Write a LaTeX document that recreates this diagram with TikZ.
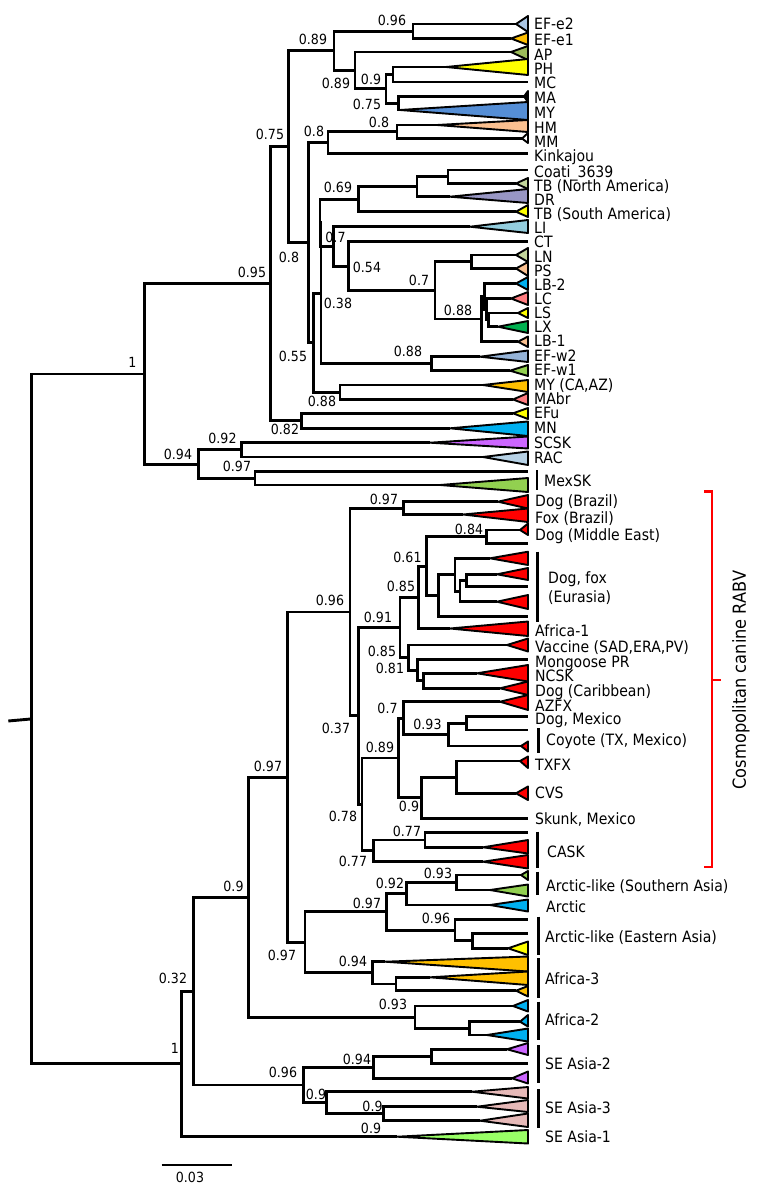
\documentclass[tikz,border=0pt]{standalone}
\usepackage{fontspec}
\setmainfont{DejaVu Sans}[FakeStretch=0.9]
\usepackage{tikz}

\definecolor{steelA}{HTML}{A9C4E2}
\definecolor{steelB}{HTML}{95B3D7}
\definecolor{steelC}{HTML}{B7D2E6}
\definecolor{amber}{HTML}{FFC000}
\definecolor{olive}{HTML}{9BBB59}
\definecolor{lemon}{HTML}{FFFF00}
\definecolor{cornflower}{HTML}{558ED5}
\definecolor{peach}{HTML}{FAC090}
\definecolor{sage}{HTML}{C3D69B}
\definecolor{lavender}{HTML}{9896C4}
\definecolor{skyblue}{HTML}{93CDDD}
\definecolor{cyanblue}{HTML}{00B0F0}
\definecolor{salmon}{HTML}{FF7C80}
\definecolor{emerald}{HTML}{00B050}
\definecolor{leaf}{HTML}{92D050}
\definecolor{violet}{HTML}{CC66FF}
\definecolor{rabv}{HTML}{FF0000}
\definecolor{rose}{HTML}{E6B9B8}
\definecolor{lime}{HTML}{99FF66}

\begin{document}
\begin{tikzpicture}[x=1pt,y=-1pt,
    branch/.style={every edge/.style={draw,line width=2.9pt,line join=miter,to path={|- (\tikztotarget)}}},
    clade/.style={draw,line width=1.9pt,line join=round},
    support/.style={font=\fontsize{14}{14}\selectfont,inner sep=0pt,text height=10.2pt,text depth=0pt},
    taxon/.style={font=\fontsize{15.6}{15.6}\selectfont,anchor=west,inner sep=0pt,text height=11.4pt,text depth=0pt},
    group/.style={line width=2.5pt},
    bracket/.style={rabv,line width=2.2pt}]

    \useasboundingbox (0,0) rectangle (766,1190);

    % collapsed clades, upper part
    \draw[clade,fill=steelA] (516,24) coordinate (efe2) -- (528,16) -- (528,32) -- cycle;
    \draw[clade,fill=amber] (511,38.5) coordinate (efe1) -- (528,32.5) -- (528,45) -- cycle;
    \draw[clade,fill=olive] (511,52) coordinate (ap) -- (528,46) -- (528,60) -- cycle;
    \draw[clade,fill=lemon] (446,67) coordinate (ph) -- (528,59) -- (528,75) -- cycle;
    \draw[clade,fill=black] (524,96.5) coordinate (ma) -- (528,91) -- (528,102) -- cycle;
    \draw[clade,fill=cornflower] (400,110) coordinate (my) -- (528,102) -- (528,120) -- cycle;
    \draw[clade,fill=peach] (437,125) coordinate (hm) -- (528,120) -- (528,132) -- cycle;
    \draw[clade,fill=white] (522,138.5) coordinate (mm) -- (528,133) -- (528,143) -- cycle;
    \draw[clade,fill=sage] (516,183.5) coordinate (tbna) -- (528,178) -- (528,189) -- cycle;
    \draw[clade,fill=lavender] (450,196.7) coordinate (dr) -- (528,189) -- (528,203) -- cycle;
    \draw[clade,fill=lemon] (516,211.7) coordinate (tbsa) -- (528,205) -- (528,217) -- cycle;
    \draw[clade,fill=skyblue] (470,226.7) coordinate (li) -- (528,220) -- (528,233) -- cycle;
    \draw[clade,fill=sage] (516,255) coordinate (ln) -- (528,248) -- (528,262) -- cycle;
    \draw[clade,fill=peach] (516,268.5) coordinate (ps) -- (528,262) -- (528,276) -- cycle;
    \draw[clade,fill=cyanblue] (516,283.5) coordinate (lb2) -- (528,277) -- (528,290) -- cycle;
    \draw[clade,fill=salmon] (511,298.5) coordinate (lc) -- (528,292) -- (528,305) -- cycle;
    \draw[clade,fill=lemon] (518,313) coordinate (ls) -- (528,308) -- (528,318) -- cycle;
    \draw[clade,fill=emerald] (498,326.7) coordinate (lx) -- (528,321) -- (528,333) -- cycle;
    \draw[clade,fill=peach] (518,341.7) coordinate (lb1) -- (528,336.5) -- (528,347) -- cycle;
    \draw[clade,fill=steelB] (480,356.7) coordinate (efw2) -- (528,350.5) -- (528,362) -- cycle;
    \draw[clade,fill=leaf] (510,370.7) coordinate (efw1) -- (528,365) -- (528,376) -- cycle;
    \draw[clade,fill=amber] (483,385) coordinate (myca) -- (528,380) -- (528,392) -- cycle;
    \draw[clade,fill=salmon] (513,399.5) coordinate (mabr) -- (528,393) -- (528,405) -- cycle;
    \draw[clade,fill=lemon] (513,413.3) coordinate (efu) -- (528,408) -- (528,419) -- cycle;
    \draw[clade,fill=cyanblue] (450,428.3) coordinate (mn) -- (528,421.5) -- (528,436) -- cycle;
    \draw[clade,fill=violet] (430,442.7) coordinate (scsk) -- (528,436.5) -- (528,448.5) -- cycle;
    \draw[clade,fill=steelC] (483,457) coordinate (rac) -- (528,451.5) -- (528,465) -- cycle;
    \draw[clade,fill=leaf] (440,485) coordinate (mexsk) -- (528,478) -- (528,492) -- cycle;

    % collapsed clades, lower part
    \draw[clade,fill=rabv] (498,501.7) coordinate (dogbr) -- (528,495) -- (528,508.5) -- cycle;
    \draw[clade,fill=rabv] (463,514.5) coordinate (foxbr) -- (528,508.5) -- (528,522) -- cycle;
    \draw[clade,fill=rabv] (520,530) coordinate (dogme) -- (528,523.5) -- (528,535) -- cycle;
    \draw[clade,fill=rabv] (490,558.3) coordinate (eu1) -- (528,551.7) -- (528,565) -- cycle;
    \draw[clade,fill=rabv] (497,574.3) coordinate (eu2) -- (528,568) -- (528,580) -- cycle;
    \draw[clade,fill=rabv] (497,601.7) coordinate (eu4) -- (528,595) -- (528,609) -- cycle;
    \draw[clade,fill=rabv] (450,628.5) coordinate (afr1) -- (528,621.5) -- (528,636) -- cycle;
    \draw[clade,fill=rabv] (507,645) coordinate (vac) -- (528,638.5) -- (528,651.5) -- cycle;
    \draw[clade,fill=rabv] (477,673.3) coordinate (ncsk) -- (528,665) -- (528,681.5) -- cycle;
    \draw[clade,fill=rabv] (500,688.3) coordinate (dogcar) -- (528,681.5) -- (528,695) -- cycle;
    \draw[clade,fill=rabv] (500,701.7) coordinate (azfx) -- (528,695) -- (528,710) -- cycle;
    \draw[clade,fill=rabv] (521,746) coordinate (coy2) -- (528,741.5) -- (528,751.5) -- cycle;
    \draw[clade,fill=rabv] (520,761) coordinate (txfx) -- (528,756.5) -- (528,768) -- cycle;
    \draw[clade,fill=rabv] (516,793.3) coordinate (cvs) -- (528,786.5) -- (528,800) -- cycle;
    \draw[clade,fill=rabv] (483,847.3) coordinate (cask2) -- (528,840) -- (528,853.5) -- cycle;
    \draw[clade,fill=rabv] (483,861.7) coordinate (cask3) -- (528,855) -- (528,868.5) -- cycle;
    \draw[clade,fill=leaf] (521,875) coordinate (ars1) -- (528,871) -- (528,880) -- cycle;
    \draw[clade,fill=leaf] (490,890) coordinate (ars2) -- (528,884.5) -- (528,896.5) -- cycle;
    \draw[clade,fill=cyanblue] (490,905) coordinate (arctic) -- (528,899.5) -- (528,911.5) -- cycle;
    \draw[clade,fill=lemon] (508,948.3) coordinate (are3) -- (528,941.5) -- (528,955) -- cycle;
    \draw[clade,fill=amber] (385,961.7) coordinate (af3a) -- (528,956.5) -- (528,971.5) -- cycle;
    \draw[clade,fill=amber] (430,977.3) coordinate (af3b) -- (528,971.5) -- (528,985) -- cycle;
    \draw[clade,fill=amber] (516,990.7) coordinate (af3c) -- (528,986) -- (528,996.5) -- cycle;
    \draw[clade,fill=cyanblue] (513,1006) coordinate (af2a) -- (528,1000) -- (528,1011.5) -- cycle;
    \draw[clade,fill=cyanblue] (520,1021.7) coordinate (af2b) -- (528,1015) -- (528,1026.5) -- cycle;
    \draw[clade,fill=cyanblue] (487,1035) coordinate (af2c) -- (528,1028.5) -- (528,1041.5) -- cycle;
    \draw[clade,fill=violet] (507,1049.3) coordinate (sea2a) -- (528,1043) -- (528,1055) -- cycle;
    \draw[clade,fill=violet] (512,1078.3) coordinate (sea2c) -- (528,1071.5) -- (528,1083.5) -- cycle;
    \draw[clade,fill=rose] (472,1091.7) coordinate (sea3a) -- (528,1087) -- (528,1098.5) -- cycle;
    \draw[clade,fill=rose] (477,1106.7) coordinate (sea3b) -- (528,1100) -- (528,1112) -- cycle;
    \draw[clade,fill=rose] (480,1120.7) coordinate (sea3c) -- (528,1113.5) -- (528,1127) -- cycle;
    \draw[clade,fill=lime] (397,1136.7) coordinate (sea1) -- (528,1130) -- (528,1143.5) -- cycle;

    % single sequences
    \coordinate (mc) at (528,82);
    \coordinate (kink) at (528,153.5);
    \coordinate (coati) at (528,170);
    \coordinate (ct) at (528,241.7);
    \coordinate (mexa) at (528,471.7);
    \coordinate (me2) at (528,543.3);
    \coordinate (eu3) at (528,586.7);
    \coordinate (eu5) at (528,616.7);
    \coordinate (mong) at (528,659.3);
    \coordinate (dogmx) at (528,716.7);
    \coordinate (coy1) at (528,730);
    \coordinate (skunk) at (528,818.3);
    \coordinate (cask1) at (528,832.7);
    \coordinate (are1) at (528,919.3);
    \coordinate (are2) at (528,933.3);
    \coordinate (sea2b) at (528,1063.3);

    % internal nodes
    \coordinate (root) at (31.7,718.9);
    \coordinate (rootstub) at (8.3,721);
    \coordinate (n1top) at (144.3,373.95);
    \coordinate (n095) at (270.5,283.8);
    \coordinate (n075) at (288.3,146.8);
    \coordinate (n089a) at (334,50.85);
    \coordinate (nEFe) at (413,31.25);
    \coordinate (n089b) at (355,70.45);
    \coordinate (nPHMY) at (386,88.9);
    \coordinate (n09) at (393,74.5);
    \coordinate (n075b) at (398.5,103.25);
    \coordinate (n08) at (308.3,242.7);
    \coordinate (n08K) at (328,142.6);
    \coordinate (n08HM) at (397,131.75);
    \coordinate (n055) at (313.3,342.75);
    \coordinate (n038) at (321,293.25);
    \coordinate (nX) at (320,222.8);
    \coordinate (n069) at (358.5,199.2);
    \coordinate (nDR) at (417,186.7);
    \coordinate (nCoati) at (448,176.75);
    \coordinate (n07) at (333.3,246.4);
    \coordinate (n054) at (348.3,266.05);
    \coordinate (n07L) at (435,290.4);
    \coordinate (nLNPS) at (471.7,261.75);
    \coordinate (n088L) at (481.7,319);
    \coordinate (nL3) at (484.5,296.35);
    \coordinate (nL4) at (486.5,309.2);
    \coordinate (nL5) at (488.5,319.85);
    \coordinate (n088W) at (431.7,363.7);
    \coordinate (n088M) at (340,392.25);
    \coordinate (n082) at (301.7,420.8);
    \coordinate (n094) at (198.3,464.1);
    \coordinate (n092) at (241.7,449.85);
    \coordinate (n097M) at (255,478.35);
    \coordinate (n1bot) at (181.7,1063.9);
    \coordinate (n032) at (193.3,991.1);
    \coordinate (n09F) at (248.3,897.2);
    \coordinate (n097C) at (287.3,777.2);
    \coordinate (n096C) at (350,612);
    \coordinate (n097B) at (403.3,508.1);
    \coordinate (n037) at (358.3,715.9);
    \coordinate (n091) at (400,627.4);
    \coordinate (n085a) at (418.3,597.35);
    \coordinate (n061) at (426.7,566.2);
    \coordinate (n084) at (486.7,536.65);
    \coordinate (nEu) at (438.3,595.7);
    \coordinate (nE1) at (455,574.7);
    \coordinate (nE2) at (460,591.1);
    \coordinate (nE3) at (466.7,580.5);
    \coordinate (n085b) at (408.3,657.5);
    \coordinate (n081) at (417.3,670.05);
    \coordinate (nNC) at (423.3,680.8);
    \coordinate (n078) at (362,804.4);
    \coordinate (n089) at (398.3,757.95);
    \coordinate (n07A) at (403.3,718.2);
    \coordinate (n093) at (448.3,734.7);
    \coordinate (nDM) at (466.7,723.35);
    \coordinate (n09S) at (421.7,797.7);
    \coordinate (nTC) at (456.7,777.15);
    \coordinate (n077b) at (373.3,850.85);
    \coordinate (n077a) at (425,840);
    \coordinate (n097B2) at (305,942.4);
    \coordinate (n097A) at (386.7,911.9);
    \coordinate (n092A) at (406.7,893.75);
    \coordinate (n093A) at (456.7,882.5);
    \coordinate (n096E) at (455,930.05);
    \coordinate (nE72) at (472.7,940.8);
    \coordinate (n094A) at (372.7,972.85);
    \coordinate (nAf3b) at (396,984);
    \coordinate (n093F) at (415,1017.2);
    \coordinate (nAf2b) at (469.3,1028.35);
    \coordinate (n096S) at (303.3,1085);
    \coordinate (n094S) at (373.3,1067.3);
    \coordinate (nS2a) at (431.7,1056.3);
    \coordinate (n09S3) at (326.7,1102.7);
    \coordinate (n09S3b) at (383.3,1113.7);

    % branches
    \draw[line width=2.9pt] (rootstub) -- (root);
    \path[branch]
    (root) edge (n1top) edge (n1bot)
    (n1top) edge (n095) edge (n094)
    (n095) edge (n075) edge (n082)
    (n075) edge (n089a) edge (n08)
    (n089a) edge (nEFe) edge (n089b)
    (nEFe) edge (efe2) edge (efe1)
    (n089b) edge (ap) edge (nPHMY)
    (nPHMY) edge (n09) edge (n075b)
    (n09) edge (ph) edge (mc)
    (n075b) edge (ma) edge (my)
    (n08) edge (n08K) edge (n055)
    (n08K) edge (n08HM) edge (kink)
    (n08HM) edge (hm) edge (mm)
    (n055) edge (n038) edge (n088M)
    (n038) edge (nX) edge (n088W)
    (nX) edge (n069) edge (n07)
    (n069) edge (nDR) edge (tbsa)
    (nDR) edge (nCoati) edge (dr)
    (nCoati) edge (coati) edge (tbna)
    (n07) edge (li) edge (n054)
    (n054) edge (ct) edge (n07L)
    (n07L) edge (nLNPS) edge (n088L)
    (nLNPS) edge (ln) edge (ps)
    (n088L) edge (nL3) edge (lb1)
    (nL3) edge (lb2) edge (nL4)
    (nL4) edge (lc) edge (nL5)
    (nL5) edge (ls) edge (lx)
    (n088W) edge (efw2) edge (efw1)
    (n088M) edge (myca) edge (mabr)
    (n082) edge (efu) edge (mn)
    (n094) edge (n092) edge (n097M)
    (n092) edge (scsk) edge (rac)
    (n097M) edge (mexa) edge (mexsk);
    \path[branch]
    (n1bot) edge (n032) edge (sea1)
    (n032) edge (n09F) edge (n096S)
    (n09F) edge (n097C) edge (n093F)
    (n097C) edge (n096C) edge (n097B2)
    (n096C) edge (n097B) edge (n037)
    (n097B) edge (dogbr) edge (foxbr)
    (n037) edge (n091) edge (n078)
    (n091) edge (n085a) edge (n085b)
    (n085a) edge (n061) edge (afr1)
    (n061) edge (n084) edge (nEu)
    (n084) edge (dogme) edge (me2)
    (nEu) edge (nE1) edge (eu5)
    (nE1) edge (eu1) edge (nE2)
    (nE2) edge (nE3) edge (eu4)
    (nE3) edge (eu2) edge (eu3)
    (n085b) edge (vac) edge (n081)
    (n081) edge (mong) edge (nNC)
    (nNC) edge (ncsk) edge (dogcar)
    (n078) edge (n089) edge (n077b)
    (n089) edge (n07A) edge (n09S)
    (n07A) edge (azfx) edge (n093)
    (n093) edge (nDM) edge (coy2)
    (nDM) edge (dogmx) edge (coy1)
    (n09S) edge (nTC) edge (skunk)
    (nTC) edge (txfx) edge (cvs)
    (n077b) edge (n077a) edge (cask3)
    (n077a) edge (cask1) edge (cask2)
    (n097B2) edge (n097A) edge (n094A)
    (n097A) edge (n092A) edge (n096E)
    (n092A) edge (n093A) edge (arctic)
    (n093A) edge (ars1) edge (ars2)
    (n096E) edge (are1) edge (nE72)
    (nE72) edge (are2) edge (are3)
    (n094A) edge (af3a) edge (nAf3b)
    (nAf3b) edge (af3b) edge (af3c)
    (n093F) edge (af2a) edge (nAf2b)
    (nAf2b) edge (af2b) edge (af2c)
    (n096S) edge (n094S) edge (n09S3)
    (n094S) edge (nS2a) edge (sea2c)
    (nS2a) edge (sea2a) edge (sea2b)
    (n09S3) edge (sea3a) edge (n09S3b)
    (n09S3b) edge (sea3b) edge (sea3c);

    % support values
    \node[support] (s1) at (392,20) {0.96};
    \node[support] (s2) at (313,39) {0.89};
    \node[support] (s3) at (336,83.5) {0.89};
    \node[support] (s4) at (371,79) {0.9};
    \node[support] (s5) at (367,104) {0.75};
    \node[support] (s6) at (379,122.5) {0.8};
    \node[support] (s7) at (314,131) {0.8};
    \node[support] (s8) at (270,134) {0.75};
    \node[support] (s9) at (338,187.5) {0.69};
    \node[support] (s10) at (289,257.5) {0.8};
    \node[support] (s11) at (335.5,237.5) {0.7};
    \node[support] (s12) at (367,267.5) {0.54};
    \node[support] (s13) at (419,280) {0.7};
    \node[support] (s14) at (458,310) {0.88};
    \node[support] (s15) at (338,303.5) {0.38};
    \node[support] (s16) at (293,356) {0.55};
    \node[support] (s17) at (408,351) {0.88};
    \node[support] (s18) at (322,401.5) {0.88};
    \node[support] (s19) at (285,429) {0.82};
    \node[support] (s20) at (252,272) {0.95};
    \node[support] (s21) at (132.5,362.5) {1};
    \node[support] (s22) at (178,454) {0.94};
    \node[support] (s23) at (222.5,438) {0.92};
    \node[support] (s24) at (237,466.5) {0.97};
    \node[support] (s25) at (384,499) {0.97};
    \node[support] (s26) at (469,529) {0.84};
    \node[support] (s27) at (407.5,557.5) {0.61};
    \node[support] (s28) at (401,586.5) {0.85};
    \node[support] (s29) at (378,617.5) {0.91};
    \node[support] (s30) at (382,651.5) {0.85};
    \node[support] (s31) at (390,668.5) {0.81};
    \node[support] (s32) at (387.5,708.5) {0.7};
    \node[support] (s33) at (427.5,724) {0.93};
    \node[support] (s34) at (380,747.5) {0.89};
    \node[support] (s35) at (409,806.5) {0.9};
    \node[support] (s36) at (343,816.5) {0.78};
    \node[support] (s37) at (407,831) {0.77};
    \node[support] (s38) at (353,861.5) {0.77};
    \node[support] (s39) at (336,728.5) {0.37};
    \node[support] (s40) at (330,600) {0.96};
    \node[support] (s41) at (268,766.5) {0.97};
    \node[support] (s42) at (233.5,886) {0.9};
    \node[support] (s43) at (438,873.5) {0.93};
    \node[support] (s44) at (390,883.5) {0.92};
    \node[support] (s45) at (367,903.5) {0.97};
    \node[support] (s46) at (436,918.5) {0.96};
    \node[support] (s47) at (282,955) {0.97};
    \node[support] (s48) at (353,961.5) {0.94};
    \node[support] (s49) at (393,1004) {0.93};
    \node[support] (s50) at (173,978) {0.32};
    \node[support] (s51) at (175,1048) {1};
    \node[support] (s52) at (283,1072.5) {0.96};
    \node[support] (s53) at (357,1059) {0.94};
    \node[support] (s54) at (316,1094) {0.9};
    \node[support] (s55) at (372.5,1106) {0.9};
    \node[support] (s56) at (371,1128) {0.9};

    % taxon names
    \node[taxon] (tEFe2) at (534,24) {EF-e2};
    \node[taxon] (tEFe1) at (534,39.5) {EF-e1};
    \node[taxon] (tAP) at (534,55) {AP};
    \node[taxon] (tPH) at (534,69) {PH};
    \node[taxon] (tMC) at (534,83) {MC};
    \node[taxon] (tMA) at (534,98) {MA};
    \node[taxon] (tMY) at (534,113) {MY};
    \node[taxon] (tHM) at (534,127.5) {HM};
    \node[taxon] (tMM) at (534,141.5) {MM};
    \node[taxon] (tKink) at (534,156) {Kinkajou};
    \node[taxon] (tCoati) at (534,171.5) {Coati\_3639};
    \node[taxon] (tTBNA) at (534,186) {TB (North America)};
    \node[taxon] (tDR) at (534,200) {DR};
    \node[taxon] (tTBSA) at (534,214) {TB (South America)};
    \node[taxon] (tLI) at (534,228) {LI};
    \node[taxon] (tCT) at (534,242) {CT};
    \node[taxon] (tLN) at (534,257) {LN};
    \node[taxon] (tPS) at (534,271) {PS};
    \node[taxon] (tLB2) at (534,285) {LB-2};
    \node[taxon] (tLC) at (534,299) {LC};
    \node[taxon] (tLS) at (534,313) {LS};
    \node[taxon] (tLX) at (534,327) {LX};
    \node[taxon] (tLB1) at (534,341) {LB-1};
    \node[taxon] (tEFw2) at (534,356) {EF-w2};
    \node[taxon] (tEFw1) at (534,370) {EF-w1};
    \node[taxon] (tMYCA) at (534,385) {MY (CA,AZ)};
    \node[taxon] (tMAbr) at (534,399) {MAbr};
    \node[taxon] (tEFu) at (534,413) {EFu};
    \node[taxon] (tMN) at (534,428) {MN};
    \node[taxon] (tSCSK) at (534,443) {SCSK};
    \node[taxon] (tRAC) at (534,458) {RAC};
    \node[taxon] (tMexSK) at (544,481) {MexSK};
    \node[taxon] (tDogBr) at (535,501) {Dog (Brazil)};
    \node[taxon] (tFoxBr) at (535,518) {Fox (Brazil)};
    \node[taxon] (tDogME) at (535,535) {Dog (Middle East)};
    \node[taxon] (tDogFox) at (548,578) {Dog, fox};
    \node[taxon] (tEurasia) at (548,597) {(Eurasia)};
    \node[taxon] (tAfr1) at (535,631) {Africa-1};
    \node[taxon] (tVac) at (535,647) {Vaccine (SAD,ERA,PV)};
    \node[taxon] (tMong) at (535,662) {Mongoose PR};
    \node[taxon] (tNCSK) at (535,676) {NCSK};
    \node[taxon] (tDogCar) at (535,690.5) {Dog (Caribbean)};
    \node[taxon] (tAZFX) at (535,705.5) {AZFX};
    \node[taxon] (tDogMx) at (535,719) {Dog, Mexico};
    \node[taxon] (tCoyote) at (546,740) {Coyote (TX, Mexico)};
    \node[taxon] (tTXFX) at (535,765) {TXFX};
    \node[taxon] (tCVS) at (535,793) {CVS};
    \node[taxon] (tSkunk) at (535,819) {Skunk, Mexico};
    \node[taxon] (tCASK) at (547,852) {CASK};
    \node[taxon] (tArcS) at (546,886) {Arctic-like (Southern Asia)};
    \node[taxon] (tArctic) at (546,907) {Arctic};
    \node[taxon] (tArcE) at (545,937) {Arctic-like (Eastern Asia)};
    \node[taxon] (tAfr3) at (545,979) {Africa-3};
    \node[taxon] (tAfr2) at (545,1020) {Africa-2};
    \node[taxon] (tSEA2) at (545,1064) {SE Asia-2};
    \node[taxon] (tSEA3) at (545,1108) {SE Asia-3};
    \node[taxon] (tSEA1) at (545,1137) {SE Asia-1};

    % group bars
    \draw[group] (537,470) -- (537,490);
    \draw[group] (537.3,551.7) -- (537.3,621.7);
    \draw[group] (538.3,728) -- (538.3,753);
    \draw[group] (537.3,831.7) -- (537.3,868.3);
    \draw[group] (537.3,871.7) -- (537.3,895);
    \draw[group] (538.3,916.7) -- (538.3,955);
    \draw[group] (538.3,958) -- (538.3,998);
    \draw[group] (538.3,1001.7) -- (538.3,1040);
    \draw[group] (538.3,1045) -- (538.3,1083);
    \draw[group] (538.3,1089) -- (538.3,1128);

    % cosmopolitan bracket
    \coordinate (brtop) at (704,491.5);
    \coordinate (brbot) at (704,867);
    \coordinate (brmid) at (712,680);
    \draw[bracket] (brtop) -| (brmid) |- (brbot);
    \draw[bracket] (brmid) -- ++(9,0);
    \node[rotate=90,font=\fontsize{18}{18}\selectfont,inner sep=0pt] (cosmo) at (741,680) {Cosmopolitan canine RABV};

    % scale bar
    \coordinate (scaleL) at (161.7,1165);
    \coordinate (scaleR) at (231.7,1165);
    \draw[line width=2.4pt] (scaleL) -- (scaleR);
    \node[support] (scale) at (190,1177) {0.03};
\end{tikzpicture}
\end{document}
